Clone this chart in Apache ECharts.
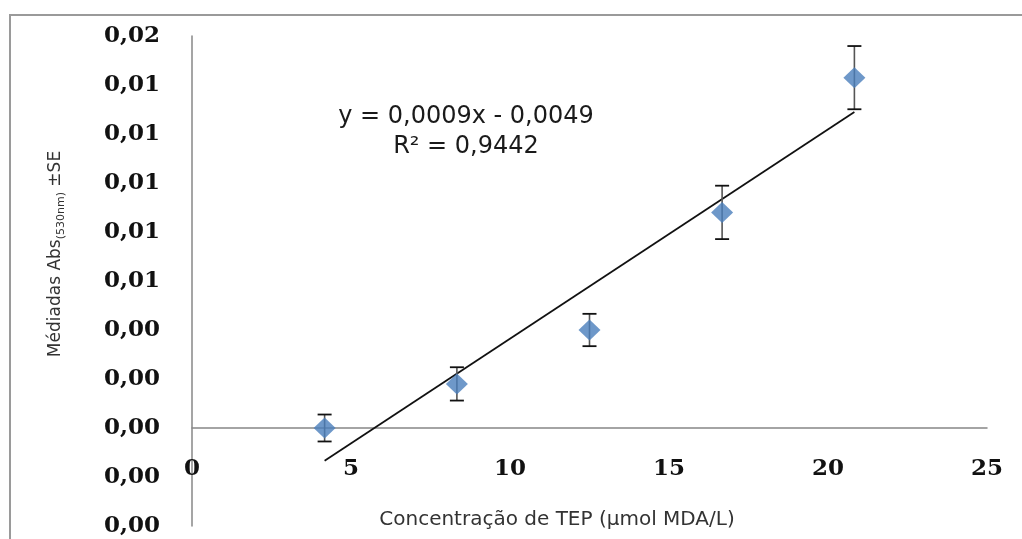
<!DOCTYPE html>
<html>
<head>
<meta charset="utf-8">
<script src="https://cdn.jsdelivr.net/npm/echarts@6/dist/echarts.min.js"></script>
<style>
  html, body { margin: 0; padding: 0; background: #fff; }
  #chart { width: 1022px; height: 539px; }
</style>
</head>
<body>
<div id="chart"></div>
<script>
// TEP concentration (µmol MDA/L) and mean absorbance at 530 nm
const concentrations = [4.17, 8.33, 12.5, 16.67, 20.83];
const meanAbs = [0.0000, 0.0018, 0.0040, 0.0088, 0.0143];
const stdErr = [0.00055, 0.00068, 0.00066, 0.00109, 0.00129];

// Axis ranges and tick labels (two-decimal comma format)
const xMin = 0, xMax = 25, xStep = 5;
const yMin = -0.004, yMax = 0.016, yStep = 0.002;
const yTickLabels = ['0,00', '0,00', '0,00', '0,00', '0,00', '0,01', '0,01', '0,01', '0,01', '0,01', '0,02'];
const rSquaredText = 'R² = 0,9442';

// Least-squares linear trend through the means
const n = concentrations.length;
const mx = concentrations.reduce((a, b) => a + b, 0) / n;
const my = meanAbs.reduce((a, b) => a + b, 0) / n;
let sxy = 0, sxx = 0;
for (let i = 0; i < n; i++) {
  sxy += (concentrations[i] - mx) * (meanAbs[i] - my);
  sxx += (concentrations[i] - mx) ** 2;
}
const slope = sxy / sxx;
const intercept = my - slope * mx;
const xFirst = Math.min(...concentrations), xLast = Math.max(...concentrations);
const trendData = [[xFirst, slope * xFirst + intercept], [xLast, slope * xLast + intercept]];
const fmt4 = v => v.toFixed(4).replace('.', ',');
const equationText = 'y = ' + fmt4(slope) + 'x ' + (intercept < 0 ? '- ' : '+ ') + fmt4(Math.abs(intercept));

const points = concentrations.map((x, i) => [x, meanAbs[i]]);
const errData = concentrations.map((x, i) => [x, meanAbs[i] - stdErr[i], meanAbs[i] + stdErr[i]]);

const tickFont = { fontFamily: 'DejaVu Serif', fontWeight: 'bold', fontSize: 23, color: '#111' };

const chart = echarts.init(document.getElementById('chart'), null, { renderer: 'canvas' });
chart.setOption({
  animation: false,
  backgroundColor: '#fff',
  grid: { left: 192, right: 35, top: 36, bottom: 13, containLabel: false, outerBoundsMode: 'none' },
  xAxis: {
    type: 'value', min: xMin, max: xMax, interval: xStep,
    axisLine: { onZero: true, lineStyle: { color: '#878787', width: 1.5 } },
    axisTick: { show: false },
    splitLine: { show: false },
    // labels sit a little below the zero line, above the bottom of the plot
    axisLabel: Object.assign({ margin: -68 }, tickFont)
  },
  yAxis: {
    type: 'value', min: yMin, max: yMax, interval: yStep,
    axisLine: { show: true, onZero: true, lineStyle: { color: '#878787', width: 1.5 } },
    axisTick: { show: false },
    splitLine: { show: false },
    axisLabel: Object.assign({
      margin: 32,
      formatter: v => yTickLabels[Math.round((v - yMin) / yStep)]
    }, tickFont)
  },
  graphic: [
    {
      type: 'rect', silent: true, z: -1,
      shape: { x: 10, y: 15, width: 1100, height: 600 },
      style: { fill: 'none', stroke: '#9a9a9a', lineWidth: 2 }
    },
    {
      type: 'text', x: 466, y: 117,
      style: { text: equationText, font: '24px "DejaVu Sans"', fill: '#1a1a1a', textAlign: 'center', textVerticalAlign: 'middle' }
    },
    {
      type: 'text', x: 466, y: 147,
      style: { text: rSquaredText, font: '24px "DejaVu Sans"', fill: '#1a1a1a', textAlign: 'center', textVerticalAlign: 'middle' }
    },
    {
      type: 'text', x: 557, y: 520,
      style: { text: 'Concentração de TEP (μmol MDA/L)', font: '20px "DejaVu Sans"', fill: '#333', textAlign: 'center', textVerticalAlign: 'middle' }
    },
    {
      type: 'text', x: 56, y: 254, rotation: Math.PI / 2,
      style: {
        text: '{a|Médiadas Abs}{b|(530nm)}{a| ±SE}',
        textAlign: 'center', textVerticalAlign: 'middle',
        rich: {
          a: { fontFamily: 'DejaVu Sans', fontSize: 17, lineHeight: 22, fill: '#333', color: '#333' },
          b: { fontFamily: 'DejaVu Sans', fontSize: 11, lineHeight: 22, verticalAlign: 'bottom', fill: '#333', color: '#333', padding: [6, 0, 0, 0] }
        }
      }
    }
  ],
  series: [
    {
      name: 'Tendência', type: 'line', data: trendData, showSymbol: false, z: 2,
      lineStyle: { color: '#111', width: 1.8 }
    },
    {
      name: 'Erro padrão', type: 'custom', z: 3,
      data: errData,
      renderItem: function (params, api) {
        const x = api.value(0);
        const lo = api.coord([x, api.value(1)]);
        const hi = api.coord([x, api.value(2)]);
        const half = 7;
        return {
          type: 'group',
          children: [
            { type: 'line', shape: { x1: lo[0], y1: lo[1], x2: hi[0], y2: hi[1] }, style: { stroke: '#555', lineWidth: 1.6 } },
            { type: 'line', shape: { x1: lo[0] - half, y1: lo[1], x2: lo[0] + half, y2: lo[1] }, style: { stroke: '#111', lineWidth: 1.8 } },
            { type: 'line', shape: { x1: hi[0] - half, y1: hi[1], x2: hi[0] + half, y2: hi[1] }, style: { stroke: '#111', lineWidth: 1.8 } }
          ]
        };
      }
    },
    {
      name: 'Médias', type: 'scatter', data: points, z: 4,
      symbol: 'diamond', symbolSize: [22, 21],
      itemStyle: { color: '#4a7ebb' }
    }
  ]
});
</script>
</body>
</html>
